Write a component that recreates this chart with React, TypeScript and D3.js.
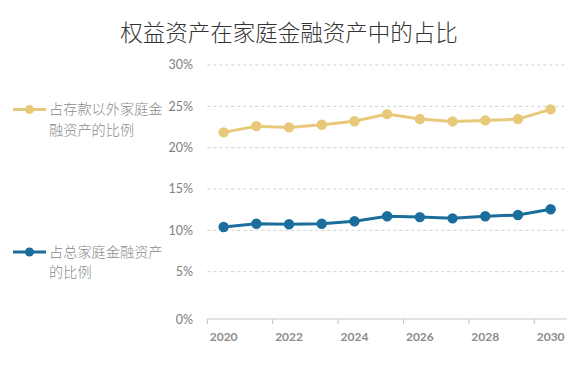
import React from "react";
import * as d3 from "d3";

const years = ["2020","2021","2022","2023","2024","2025","2026","2027","2028","2029","2030"];
const nonDepositShare = [21.85, 22.6, 22.45, 22.77, 23.2, 24.06, 23.46, 23.18, 23.3, 23.46, 24.63];
const totalShare = [10.4, 10.8, 10.73, 10.8, 11.1, 11.7, 11.6, 11.45, 11.7, 11.85, 12.55];
const yTicks = [0, 5, 10, 15, 20, 25, 30];
const xLabelYears = ["2020","2022","2024","2026","2028","2030"];
const seriesNames = ["占存款以外家庭金融资产的比例", "占总家庭金融资产的比例"];
const legendLines = [["占存款以外家庭金", "融资产的比例"], ["占总家庭金融资产", "的比例"]];
const title = "权益资产在家庭金融资产中的占比";

const W = 580, H = 370;
const YELLOW = "#E8C97A";
const BLUE = "#1B6E9C";
const FONT = "'Noto Sans CJK SC', 'Noto Sans', sans-serif";
const LABEL_FONT = "Lato, 'Noto Sans', sans-serif";

export default function App() {
  const x = d3.scaleBand<string>().domain(years).range([207.3, 567]).padding(0);
  const y = d3.scaleLinear().domain([0, 30]).range([313, 65]);
  const cx = (d: string) => (x(d) as number) + x.bandwidth() / 2;
  const line = d3.line<number>().x((_, i) => cx(years[i])).y((v) => y(v));
  const series = [
    { name: seriesNames[0], values: nonDepositShare, color: YELLOW, legendY: 109.5, lines: legendLines[0] },
    { name: seriesNames[1], values: totalShare, color: BLUE, legendY: 252, lines: legendLines[1] },
  ];
  const baseY = 319;
  return (
    <svg width={W} height={H} style={{ position: "absolute", left: 0, top: 0, background: "#fff" }}>
      <text x={289} y={41} textAnchor="middle" fontFamily={FONT} fontSize={22.5} fontWeight={300} fill="#333">{title}</text>
      {yTicks.filter((t) => t > 0).map((t) => (
        <line key={t} x1={207.3} x2={567} y1={y(t)} y2={y(t)} stroke="#cfcfcf" strokeWidth={1} strokeDasharray="3,3" />
      ))}
      {yTicks.map((t) => (
        <text key={t} x={193} y={t === 0 ? 320 : y(t)} dy="0.35em" textAnchor="end" fontFamily={LABEL_FONT} fontSize={12.5} fill="#808080">{t}%</text>
      ))}
      <line x1={207.3} x2={567} y1={baseY} y2={baseY} stroke="#c8c8c8" strokeWidth={1.2} />
      {years.map((yr, i) => i % 2 === 0 ? (
        <line key={yr} x1={x(yr) as number} x2={x(yr) as number} y1={baseY} y2={baseY + 5} stroke="#c8c8c8" strokeWidth={1.2} />
      ) : null)}
      {xLabelYears.map((yr) => (
        <text key={yr} x={cx(yr)} y={337} dy="0.35em" textAnchor="middle" fontFamily={LABEL_FONT} fontSize={12} fontWeight={700} fill="#8c8c8c">{yr}</text>
      ))}
      {series.map((s) => (
        <g key={s.name}>
          <path d={line(s.values) || ""} fill="none" stroke={s.color} strokeWidth={3} />
          {s.values.map((v, i) => (
            <circle key={i} cx={cx(years[i])} cy={y(v)} r={5.2} fill={s.color} />
          ))}
          <line x1={13} x2={46} y1={s.legendY} y2={s.legendY} stroke={s.color} strokeWidth={3} />
          <circle cx={29.5} cy={s.legendY} r={4.5} fill={s.color} />
          {s.lines.map((t, k) => (
            <text key={k} x={49} y={s.legendY + k * 20.5} dy="0.35em" fontFamily={FONT} fontSize={14.2} fontWeight={300} fill="#8a8a8a">{t}</text>
          ))}
        </g>
      ))}
    </svg>
  );
}
